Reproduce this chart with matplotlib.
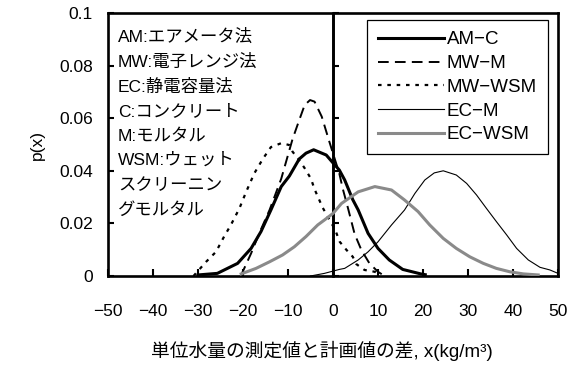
import matplotlib
matplotlib.use("Agg")
import matplotlib.pyplot as plt

plt.rcParams['font.family'] = ['Liberation Sans', 'Noto Sans CJK JP', 'DejaVu Sans']
plt.rcParams['axes.unicode_minus'] = True

# ---- data ----
am_c_x = [-30, -25.7, -21.2, -18.2, -16, -13.8, -11.5, -9.7, -7.5, -6, -4.3, -1.5, 0, 1.4, 2.6, 4.4, 5.6, 7.8, 10, 12.5, 15.5, 19.5, 20.5]
am_c_y = [0.0004, 0.001, 0.0048, 0.0105, 0.0169, 0.0251, 0.034, 0.038, 0.0445, 0.0467, 0.048, 0.046, 0.043, 0.0403, 0.0365, 0.029, 0.0251, 0.0162, 0.0105, 0.0061, 0.0025, 0.0008, 0.0005]

mw_m_x = [-20.5, -18.2, -16.4, -14.1, -11.5, -9, -7.5, -6.3, -5.1, -4.1, -2.5, -0.8, 0.3, 1.4, 2.2, 3.3, 4.8, 6.3, 8.1, 10, 11]
mw_m_y = [0.0, 0.0086, 0.0162, 0.0251, 0.037, 0.052, 0.0593, 0.065, 0.0669, 0.0663, 0.0606, 0.051, 0.045, 0.039, 0.033, 0.026, 0.016, 0.0099, 0.0048, 0.0016, 0.0005]

mw_wsm_x = [-31, -28.2, -26, -24.2, -22.7, -20.8, -19.3, -17.5, -15.6, -13.8, -11.5, -9.7, -9, -7.5, -6.3, -4.9, -4.1, -2.3, 0.5, 1.5, 3, 4.4, 5.2, 7, 9.3, 10]
mw_wsm_y = [0.0, 0.0054, 0.0092, 0.015, 0.0194, 0.0257, 0.032, 0.039, 0.0445, 0.049, 0.0505, 0.0498, 0.0473, 0.044, 0.041, 0.037, 0.033, 0.026, 0.0175, 0.013, 0.0099, 0.0073, 0.0045, 0.0023, 0.0016, 0.0008]

ec_m_x = [-5, -1.9, 1.4, 2.6, 5.6, 7.8, 10, 13, 15.9, 18.2, 20.4, 22.5, 24.5, 27.4, 29.7, 31.9, 34.1, 36.3, 38.6, 40.8, 43.4, 46, 48.2, 50]
ec_m_y = [0.0, 0.001, 0.0025, 0.0029, 0.0061, 0.0092, 0.013, 0.0194, 0.0251, 0.0314, 0.0365, 0.0392, 0.040, 0.0384, 0.0352, 0.0308, 0.0257, 0.0207, 0.0156, 0.0105, 0.0061, 0.0033, 0.0023, 0.001]

ec_wsm_x = [-20.4, -17.1, -14.1, -11.2, -8.6, -6, -3.4, -1.9, 0, 1.9, 5.6, 9.3, 13, 15.9, 18.9, 21.5, 24.5, 27.4, 30.4, 33.4, 36.3, 39.3, 42.3, 45.6]
ec_wsm_y = [0.0008, 0.0029, 0.0054, 0.008, 0.0111, 0.015, 0.0194, 0.0213, 0.0238, 0.0276, 0.032, 0.034, 0.0327, 0.0289, 0.0245, 0.0194, 0.0143, 0.0105, 0.0073, 0.0048, 0.0029, 0.0016, 0.0008, 0.0004]

series_labels = ['AM−C', 'MW−M', 'MW−WSM', 'EC−M', 'EC−WSM']
x_ticks = [-50, -40, -30, -20, -10, 0, 10, 20, 30, 40, 50]
y_ticks = [0, 0.02, 0.04, 0.06, 0.08, 0.1]
y_tick_labels = ['0', '0.02', '0.04', '0.06', '0.08', '0.1']
note_lines = ['AM:エアメータ法', 'MW:電子レンジ法', 'EC:静電容量法', 'C:コンクリート',
              'M:モルタル', 'WSM:ウェット', 'スクリーニン', 'グモルタル']
x_label = '単位水量の測定値と計画値の差, x(kg/m³)'
y_label = 'p(x)'

# ---- figure ----
fig = plt.figure(figsize=(5.79, 3.67), dpi=100)
ax = fig.add_axes([108/579, 1-276/367, 450/579, 263/367])

l1, = ax.plot(am_c_x, am_c_y, color='black', lw=2.2, solid_joinstyle='round', zorder=3)
l2, = ax.plot(mw_m_x, mw_m_y, color='black', lw=1.4, dashes=(5.5, 3.2), zorder=3)
l3, = ax.plot(mw_wsm_x, mw_wsm_y, color='black', lw=1.6, dashes=(1.6, 2.6), zorder=3)
l4, = ax.plot(ec_m_x, ec_m_y, color='black', lw=0.8, zorder=3)
l5, = ax.plot(ec_wsm_x, ec_wsm_y, color='#8a8a8a', lw=2.2, solid_joinstyle='round', zorder=3)

ax.set_xlim(-50, 50)
ax.set_ylim(0, 0.1)
ax.set_xticks(x_ticks)
ax.set_yticks(y_ticks)
ax.set_yticklabels(y_tick_labels)
ax.tick_params(axis='x', direction='in', length=5, width=1.5, pad=20, labelsize=12.5)
ax.tick_params(axis='y', direction='in', length=4, width=1.5, pad=11, labelsize=12.5)
for s in ax.spines.values():
    s.set_linewidth(1.9)

# vertical axis crossing at x = 0
ax.axvline(0, color='black', lw=1.9, zorder=2.5)
sec = ax.secondary_yaxis(0.5)
sec.set_yticks(y_ticks)
sec.tick_params(axis='y', direction='out', length=4, width=1.5, labelleft=False, labelright=False)
for s in sec.spines.values():
    s.set_linewidth(1.9)

ax.set_xlabel(x_label, fontsize=13.5)
ax.xaxis.set_label_coords(0.476, -0.245)
ax.xaxis.label.set_va('top')
ax.set_ylabel(y_label, fontsize=12.5)
ax.yaxis.set_label_coords(-0.14, 0.5)

note_y = [0.9087, 0.8148, 0.7209, 0.6270, 0.5331, 0.4392, 0.3452, 0.2510]
for txt, yy in zip(note_lines, note_y):
    ax.text(0.022, yy, txt, transform=ax.transAxes, fontsize=12.5, va='center', ha='left')

leg = ax.legend([l1, l2, l3, l4, l5], series_labels, loc='upper right',
                bbox_to_anchor=(0.978, 0.973), borderaxespad=0, frameon=True,
                fancybox=False, edgecolor='black', framealpha=1, fontsize=13.5,
                handlelength=3.5, handletextpad=0.15, labelspacing=0.35, borderpad=0.6)
leg.get_frame().set_linewidth(0.9)

fig.savefig('out.png', dpi=100)
